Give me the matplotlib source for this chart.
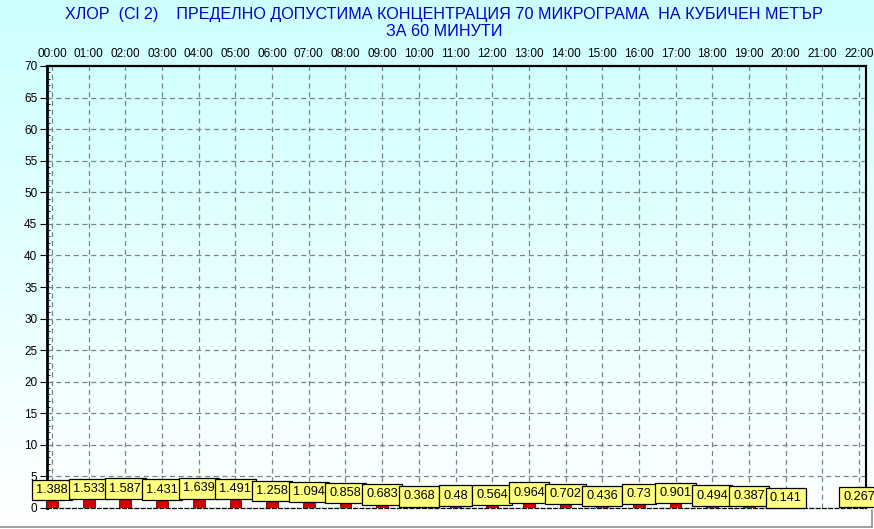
import numpy as np
import matplotlib
matplotlib.use('Agg')
import matplotlib.pyplot as plt
from matplotlib.lines import Line2D

plt.rcParams['font.family'] = ['Liberation Sans', 'DejaVu Sans']

# данни
hours = ['00:00', '01:00', '02:00', '03:00', '04:00', '05:00', '06:00', '07:00',
         '08:00', '09:00', '10:00', '11:00', '12:00', '13:00', '14:00', '15:00',
         '16:00', '17:00', '18:00', '19:00', '20:00', '21:00', '22:00']
values = [1.388, 1.533, 1.587, 1.431, 1.639, 1.491, 1.258, 1.094, 0.858, 0.683,
          0.368, 0.48, 0.564, 0.964, 0.702, 0.436, 0.73, 0.901, 0.494, 0.387,
          0.141, np.nan, 0.267]
labels = ['1.388', '1.533', '1.587', '1.431', '1.639', '1.491', '1.258', '1.094',
          '0.858', '0.683', '0.368', '0.48', '0.564', '0.964', '0.702', '0.436',
          '0.73', '0.901', '0.494', '0.387', '0.141', '', '0.267']
y_ticks = list(range(0, 75, 5))

W, H = 874, 529
fig = plt.figure(figsize=(W / 100, H / 100), dpi=100)

# фон - градиент
bg = fig.add_axes([0, 0, 1, 1], zorder=-10)
grad = np.linspace(0, 1, 256).reshape(-1, 1)
top = np.array([204, 255, 255]) / 255
bottom = np.array([255, 255, 255]) / 255
img = top + (bottom - top) * grad[:, :, None]
img = np.repeat(img, 2, axis=1)
bg.imshow(img, aspect='auto', extent=[0, 1, 0, 1])
bg.set_axis_off()

# основна графика
x0, x1, y0, y1 = 47, 866, 66, 508
ax = fig.add_axes([x0 / W, 1 - y1 / H, (x1 - x0) / W, (y1 - y0) / H])
ax.set_facecolor('none')

x = np.arange(len(hours))
ax.bar(x, values, width=0.32, color='#d40000', edgecolor='#700000', linewidth=0.6, zorder=3)

for i, (v, s) in enumerate(zip(values, labels)):
    if not s:
        continue
    ax.annotate(s, xy=(i, v), xytext=(0, 2.4), textcoords='offset points',
                ha='center', va='bottom', fontsize=9.2, color='black', zorder=5,
                bbox=dict(boxstyle='square,pad=0.33', fc='#ffff80', ec='black', lw=0.9),
                annotation_clip=False)

ax.set_xlim(-0.136, 22.19)
ax.set_ylim(0, 70)
ax.set_yticks(y_ticks)
ax.set_yticks(np.arange(0, 71, 1), minor=True)
ax.set_xticks(x)
ax.set_xticklabels(hours)
ax.xaxis.tick_top()
ax.tick_params(axis='x', length=0, pad=4, labelsize=8.5)
ax.tick_params(axis='y', which='major', length=5, width=0.8, labelsize=8.5, pad=2)
ax.tick_params(axis='y', which='minor', length=2, width=0.6, direction='in')

ax.grid(True, color='#758585', linestyle=(0, (4, 3)), linewidth=0.9, zorder=1)

ax.spines['left'].set_linewidth(2)
ax.spines['right'].set_linewidth(1.5)
ax.spines['top'].set_linewidth(1.6)
ax.spines['top'].set_linestyle((0, (3, 1)))
ax.spines['bottom'].set_linewidth(0.9)
ax.spines['bottom'].set_linestyle((0, (3, 2)))

# заглавие
fig.text(444 / W, 1 - 15 / H,
         'ХЛОР  (Cl 2)    ПРЕДЕЛНО ДОПУСТИМА КОНЦЕНТРАЦИЯ 70 МИКРОГРАМА  НА КУБИЧЕН МЕТЪР',
         ha='center', va='center', fontsize=11.6, color='#0000c8')
fig.text(444 / W, 1 - 32 / H, 'ЗА 60 МИНУТИ',
         ha='center', va='center', fontsize=11.6, color='#0000c8')

# долна сива рамка
fig.add_artist(Line2D([0, 872 / W], [1 - 527 / H, 1 - 527 / H], color='#909090', lw=1.2))
fig.add_artist(Line2D([872 / W, 872 / W], [1 - 510 / H, 1 - 527 / H], color='#909090', lw=1.2))

fig.savefig('out.png', dpi=100)
